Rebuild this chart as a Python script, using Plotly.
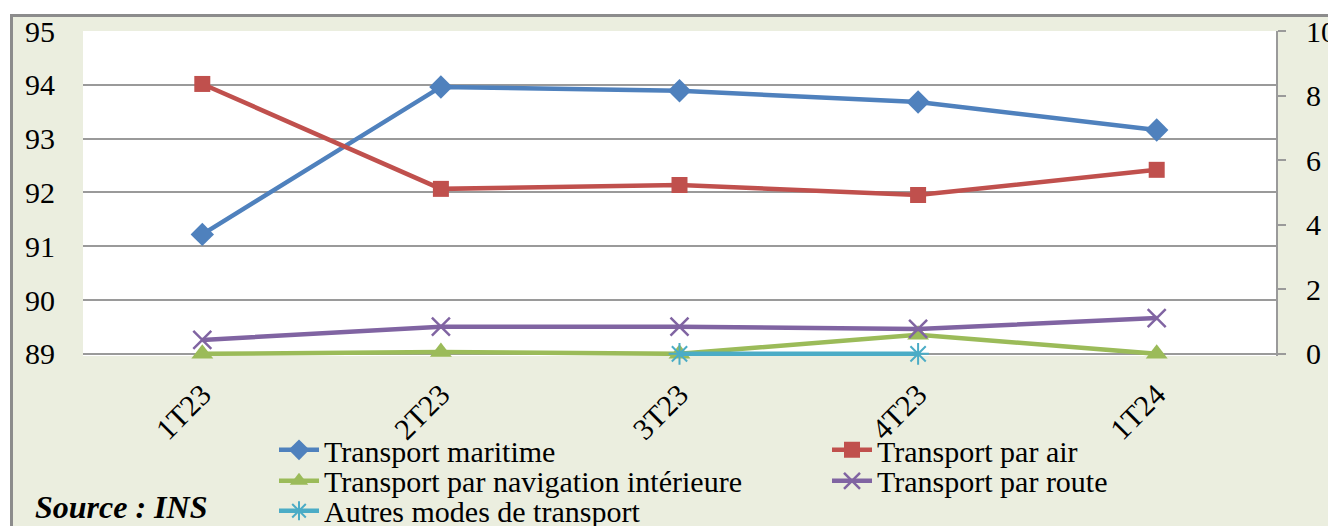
import plotly.graph_objects as go

categories = ["1T23", "2T23", "3T23", "4T23", "1T24"]
maritime = [91.22, 93.96, 93.89, 93.68, 93.16]
air = [8.36, 5.11, 5.23, 4.92, 5.70]
navigation = [0.0, 0.06, 0.0, 0.59, 0.0]
route = [0.43, 0.84, 0.84, 0.77, 1.11]
autres = [None, None, 0.0, 0.0, None]

left_ticks = [89, 90, 91, 92, 93, 94, 95]
right_ticks = [0, 2, 4, 6, 8, 10]

FONT = "Liberation Serif"
BG = "#EBEEDF"
GRID = "#9A9A9A"

# pixel geometry: 95 at y=31, 89 at y=354; small extra room below so lines at 0 are not clipped
L, T, PW = 83, 31, 1193
UNIT = 323 / 6.0
PAD = 0.04  # in left-axis units
PH = 323 + PAD * UNIT
BOT = T + PH

left_range = [89 - PAD, 95]
right_range = [-PAD * 10 / 6.0, 10]


def px_x(x):
    return (x - L) / PW


def px_y(y):
    return (BOT - y) / PH


fig = go.Figure()
fig.add_trace(go.Scatter(x=categories, y=maritime, name="Transport maritime", mode="lines+markers",
                         line=dict(color="#4F81BD", width=4.5), legend="legend",
                         marker=dict(symbol="diamond", size=18, color="#4F81BD"), cliponaxis=False))
fig.add_trace(go.Scatter(x=categories, y=air, name="Transport par air", mode="lines+markers", yaxis="y2",
                         line=dict(color="#C0504D", width=4.5), legend="legend",
                         marker=dict(symbol="square", size=16, color="#C0504D"), cliponaxis=False))
fig.add_trace(go.Scatter(x=categories, y=navigation, name="Transport par navigation intérieure",
                         mode="lines+markers", yaxis="y2", legend="legend2",
                         line=dict(color="#9BBB59", width=4.5),
                         marker=dict(symbol="triangle-up", size=19, color="#9BBB59"), cliponaxis=False))
fig.add_trace(go.Scatter(x=categories, y=route, name="Transport par route", mode="lines+markers", yaxis="y2",
                         line=dict(color="#8064A2", width=4.5), legend="legend2",
                         marker=dict(symbol="x-thin", size=18, color="#8064A2",
                                     line=dict(color="#8064A2", width=2.5)), cliponaxis=False))
fig.add_trace(go.Scatter(x=categories, y=autres, name="Autres modes de transport", mode="lines+markers",
                         yaxis="y2", legend="legend3",
                         line=dict(color="#4BACC6", width=4.5),
                         marker=dict(symbol="asterisk-open", size=18, color="#4BACC6",
                                     line=dict(color="#4BACC6", width=2)), cliponaxis=False))


def leg(ycenter):
    return dict(orientation="h", x=px_x(274), xanchor="left", y=px_y(ycenter), yanchor="middle",
                entrywidth=498, entrywidthmode="pixels", bgcolor="rgba(0,0,0,0)",
                font=dict(family=FONT, size=30), itemwidth=40, tracegroupgap=0)


fig.update_layout(
    width=1328, height=526,
    margin=dict(l=L, r=1328 - L - PW, t=T, b=526 - BOT, autoexpand=False),
    paper_bgcolor=BG,
    plot_bgcolor="white",
    font=dict(family=FONT, size=30, color="black"),
    showlegend=True,
    legend=leg(450),
    legend2=leg(481),
    legend3=leg(511),
    xaxis=dict(type="category", range=[-0.5, 4.5], showgrid=False, showline=False, zeroline=False,
               tickangle=-45, tickfont=dict(family=FONT, size=30), ticks="", ticklabelstandoff=14),
    yaxis=dict(range=left_range, tickvals=left_ticks, showgrid=True, gridcolor=GRID, gridwidth=2,
               zeroline=False, showline=False, ticks="", ticklabelstandoff=27,
               tickfont=dict(family=FONT, size=30)),
    yaxis2=dict(range=right_range, tickvals=right_ticks, overlaying="y", side="right", showgrid=False,
                zeroline=False, showline=True, linecolor=GRID, linewidth=2, ticks="outside",
                ticklen=8, tickcolor=GRID, tickwidth=2, ticklabelstandoff=14,
                tickfont=dict(family=FONT, size=30)),
    shapes=[
        dict(type="rect", xref="paper", yref="paper", x0=px_x(-20), x1=px_x(1400), y0=px_y(14), y1=px_y(-20),
             fillcolor="white", line=dict(width=0), layer="below"),
        dict(type="rect", xref="paper", yref="paper", x0=px_x(-20), x1=px_x(10), y0=px_y(560), y1=px_y(14),
             fillcolor="white", line=dict(width=0), layer="below"),
        dict(type="rect", xref="paper", yref="paper", x0=px_x(11.5), x1=px_x(1400), y0=px_y(560), y1=px_y(15.5),
             fillcolor="rgba(0,0,0,0)", line=dict(color="#8C8C8C", width=3), layer="above"),
    ],
    annotations=[dict(text="<b><i>Source : INS</i></b>", xref="paper", yref="paper",
                      x=px_x(33), y=px_y(507), xanchor="left", yanchor="middle",
                      showarrow=False, font=dict(family=FONT, size=32, color="black"))],
)

fig.write_html("out.html", config={"displayModeBar": False},
               post_script="document.body.style.margin='0';")
